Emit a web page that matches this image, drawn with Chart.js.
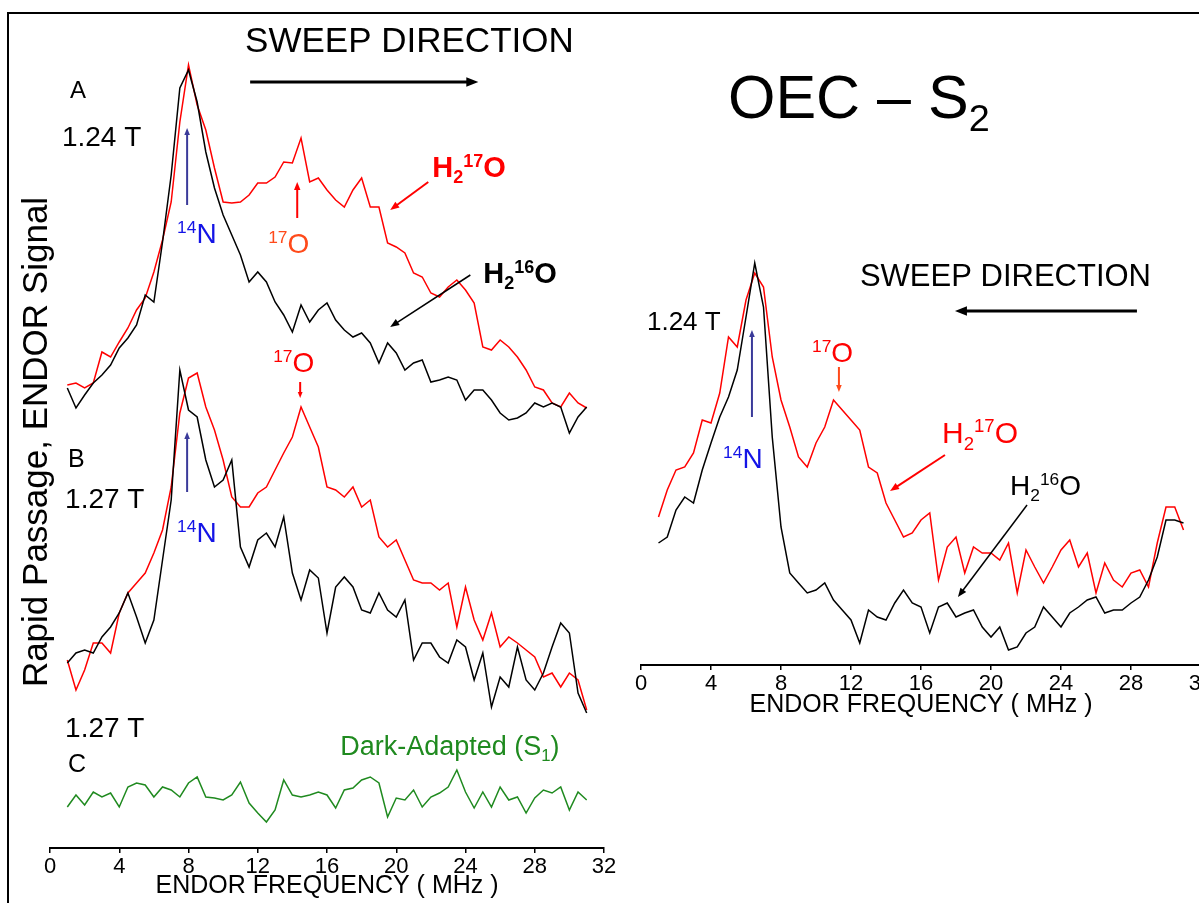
<!DOCTYPE html>
<html lang="en">
<head>
<meta charset="UTF-8">
<title>OEC - S2 ENDOR</title>
<style>
  html, body { margin: 0; padding: 0; background: #fff; overflow: hidden; }
  #frame { position: absolute; left: 7px; top: 12px; width: 1300px; height: 1000px; border-top: 2px solid #000; border-left: 2px solid #000; }
  #left { position: absolute; left: 0; top: 0; }
  #right { position: absolute; left: 620px; top: 0; }
</style>
</head>
<body>
<div id="frame"></div>
<canvas id="left" width="620" height="903"></canvas>
<canvas id="right" width="600" height="720"></canvas>
<script src="https://cdn.jsdelivr.net/npm/chart.js"></script>
<script>
// ENDOR frequency (MHz), same sampling for every trace
const freq = [1, 1.5, 2, 2.5, 3, 3.5, 4, 4.5, 5, 5.5, 6, 6.5, 7, 7.5, 8, 8.5, 9, 9.5, 10, 10.5,
  11, 11.5, 12, 12.5, 13, 13.5, 14, 14.5, 15, 15.5, 16, 16.5, 17, 17.5, 18, 18.5, 19, 19.5, 20, 20.5,
  21, 21.5, 22, 22.5, 23, 23.5, 24, 24.5, 25, 25.5, 26, 26.5, 27, 27.5, 28, 28.5, 29, 29.5, 30, 30.5, 31];
const xTicks = [0, 4, 8, 12, 16, 20, 24, 28, 32];

// left panel, trace A (1.24 T), offset stacked
const a17 = [46.3, 46.5, 46.0, 46.5, 49.6, 49.1, 50.6, 52.0, 53.8, 55.0,
  57.6, 60.8, 64.6, 72.6, 78.3, 74.3, 71.8, 68.0, 64.6, 64.5,
  64.6, 65.3, 66.5, 66.5, 67.1, 68.6, 68.5, 71.0, 66.6, 67.0,
  65.8, 64.8, 64.1, 65.8, 67.0, 64.1, 64.1, 60.5, 60.1, 59.5,
  57.5, 57.1, 55.5, 55.1, 56.1, 56.8, 55.8, 54.5, 50.1, 49.8,
  50.8, 50.1, 49.1, 47.8, 46.1, 45.8, 44.5, 44.1, 45.5, 44.5, 44.0];
const a16 = [46.0, 44.0, 45.3, 46.5, 47.3, 48.3, 50.0, 51.0, 52.3, 55.3,
  54.6, 60.6, 67.3, 76.0, 77.8, 74.6, 69.6, 66.0, 63.3, 61.3,
  59.3, 56.6, 57.6, 56.6, 54.6, 53.3, 51.6, 54.3, 52.6, 53.8,
  54.5, 52.8, 51.8, 51.1, 51.5, 50.5, 48.5, 50.5, 49.5, 47.8,
  48.5, 48.8, 46.6, 46.8, 47.1, 46.8, 44.8, 45.8, 45.8, 44.8,
  43.5, 42.8, 43.0, 43.5, 44.5, 44.1, 44.5, 44.1, 41.5, 43.1, 44.1];
// trace B (1.27 T)
const b17 = [18.8, 15.8, 17.8, 20.5, 20.5, 19.5, 23.5, 25.5, 26.5, 27.5,
  29.5, 31.8, 36.1, 43.5, 47.0, 47.5, 44.1, 41.8, 38.8, 35.1,
  34.1, 34.1, 35.5, 36.1, 37.8, 39.5, 41.1, 44.1, 42.1, 40.1,
  36.1, 35.8, 35.1, 36.1, 34.1, 34.8, 31.1, 30.1, 30.8, 28.8,
  26.8, 26.5, 26.5, 25.8, 26.5, 22.1, 26.1, 22.8, 20.8, 23.5,
  20.1, 21.1, 20.5, 19.8, 19.1, 17.1, 17.5, 16.1, 17.5, 16.8, 13.8];
const b16 = [18.5, 19.5, 19.8, 19.5, 21.1, 22.1, 23.5, 25.5, 23.1, 20.5,
  22.8, 28.8, 34.8, 47.8, 43.8, 43.1, 38.8, 36.1, 36.8, 38.8,
  30.1, 28.1, 30.8, 31.5, 30.1, 33.1, 27.5, 24.8, 27.8, 27.0,
  21.5, 26.1, 27.1, 26.1, 23.8, 23.5, 25.5, 23.8, 23.1, 24.8,
  18.8, 20.5, 20.5, 19.1, 18.5, 20.8, 20.1, 16.8, 19.5, 14.1,
  17.1, 16.1, 20.1, 16.8, 15.8, 17.5, 20.1, 22.5, 21.5, 15.5, 13.5];
// trace C, dark-adapted S1
const cDark = [4.1, 5.3, 4.3, 5.6, 5.1, 5.5, 4.1, 6.1, 6.5, 6.3,
  5.1, 6.1, 5.8, 5.1, 6.5, 7.1, 5.1, 5.0, 4.8, 5.3,
  6.6, 4.5, 3.5, 2.6, 3.8, 6.8, 5.3, 5.1, 5.3, 5.6,
  5.3, 4.0, 5.8, 6.0, 6.8, 7.1, 6.5, 3.1, 5.0, 4.8,
  5.8, 4.1, 5.1, 5.5, 6.1, 7.8, 5.6, 4.0, 5.6, 4.1,
  6.1, 4.8, 5.1, 3.5, 5.0, 5.8, 5.5, 6.1, 3.8, 5.6, 4.8];
// right panel (reverse sweep, 1.24 T)
const r17 = [14.8, 17.5, 19.5, 19.8, 21.2, 24.5, 24.2, 27.2, 32.8, 31.8,
  36.5, 39.2, 37.8, 30.8, 26.5, 23.8, 20.8, 19.8, 22.2, 23.8,
  26.5, 25.5, 24.5, 23.5, 19.8, 19.2, 16.2, 14.5, 12.8, 13.2,
  14.5, 15.2, 8.5, 11.8, 12.8, 9.2, 11.8, 11.2, 11.2, 10.5,
  12.2, 7.2, 11.5, 9.8, 8.2, 9.8, 11.5, 12.5, 9.8, 11.2,
  7.2, 10.2, 8.5, 7.8, 9.2, 9.5, 7.8, 12.2, 15.8, 15.8, 13.5];
const r16 = [12.2, 12.8, 15.5, 16.8, 16.2, 19.5, 22.2, 24.8, 26.8, 29.5,
  34.8, 40.2, 35.8, 22.8, 13.8, 9.2, 8.2, 7.2, 7.5, 8.2,
  6.5, 5.5, 4.5, 2.2, 5.5, 4.8, 4.5, 6.2, 7.5, 6.2,
  5.8, 3.2, 5.8, 6.2, 4.8, 5.2, 5.5, 3.8, 2.8, 3.8,
  1.5, 1.8, 3.2, 3.8, 5.8, 4.8, 3.8, 5.2, 5.8, 6.5,
  6.8, 5.2, 5.5, 5.5, 6.2, 6.8, 8.5, 10.8, 14.5, 14.5, 14.2];

const FONT = "'Liberation Sans', Arial, Helvetica, sans-serif";
const RED = '#ff0000', ORANGE = '#ff4a1a', BLUE = '#1414e6', NAVY = '#3a3a9a', GREEN = '#1f8a1f';

// text with sub/superscripts, drawn at a baseline point
function drawRich(ctx, x, y, parts, size, weight, color, align) {
  ctx.save();
  ctx.fillStyle = color;
  ctx.textBaseline = 'alphabetic';
  ctx.textAlign = 'left';
  let w = 0;
  const segs = parts.map(p => {
    const s = typeof p === 'string' ? { t: p } : p;
    const sz = (s.sub || s.sup) ? size * 0.62 : size;
    ctx.font = weight + ' ' + sz + 'px ' + FONT;
    const seg = { t: s.t, sz: sz, x: w, dy: s.sub ? size * 0.22 : (s.sup ? -size * 0.36 : 0) };
    w += ctx.measureText(s.t).width;
    return seg;
  });
  const x0 = align === 'center' ? x - w / 2 : x;
  segs.forEach(s => {
    ctx.font = weight + ' ' + s.sz + 'px ' + FONT;
    ctx.fillText(s.t, x0 + s.x, y + s.dy);
  });
  ctx.restore();
}

function drawArrow(ctx, x1, y1, x2, y2, color, width, head) {
  const a = Math.atan2(y2 - y1, x2 - x1);
  const c = Math.cos(a), s = Math.sin(a);
  ctx.save();
  ctx.strokeStyle = color;
  ctx.fillStyle = color;
  ctx.lineWidth = width;
  ctx.beginPath();
  ctx.moveTo(x1, y1);
  ctx.lineTo(x2 - c * head * 0.8, y2 - s * head * 0.8);
  ctx.stroke();
  ctx.beginPath();
  ctx.moveTo(x2, y2);
  ctx.lineTo(x2 - head * c + head * 0.4 * s, y2 - head * s - head * 0.4 * c);
  ctx.lineTo(x2 - head * c - head * 0.4 * s, y2 - head * s + head * 0.4 * c);
  ctx.closePath();
  ctx.fill();
  ctx.restore();
}

// labels and arrows, placed in data units (MHz, signal)
function notesPlugin(items) {
  return {
    id: 'notes',
    afterDraw(chart) {
      const ctx = chart.ctx, x = chart.scales.x, y = chart.scales.y;
      items.forEach(it => {
        if (it.arrow) {
          const p = it.arrow;
          drawArrow(ctx, x.getPixelForValue(p[0]), y.getPixelForValue(p[1]),
            x.getPixelForValue(p[2]), y.getPixelForValue(p[3]), it.color, it.width || 2, it.head || 8);
          return;
        }
        const px = x.getPixelForValue(it.at[0]), py = y.getPixelForValue(it.at[1]);
        if (it.rotate) {
          ctx.save();
          ctx.translate(px, py);
          ctx.rotate(it.rotate);
          drawRich(ctx, 0, 0, it.text, it.size, it.weight || 'normal', it.color || '#000', it.align);
          ctx.restore();
        } else {
          drawRich(ctx, px, py, it.text, it.size, it.weight || 'normal', it.color || '#000', it.align);
        }
      });
    }
  };
}

const leftNotes = [
  { text: ['Rapid Passage, ENDOR Signal'], at: [-0.17, 40.6], size: 35, align: 'center', rotate: -Math.PI / 2 },
  { text: ['SWEEP DIRECTION'], at: [11.27, 79.6], size: 35 },
  { arrow: [11.56, 76.6, 24.74, 76.6], color: '#000', width: 3, head: 12 },
  { text: ['A'], at: [1.16, 75.0], size: 24 },
  { text: ['1.24 T'], at: [0.69, 70.2], size: 28 },
  { arrow: [7.92, 64.3, 7.92, 72.0], color: NAVY, width: 2, head: 7 },
  { text: [{ t: '14', sup: 1 }, 'N'], at: [7.34, 60.5], size: 28, color: BLUE },
  { arrow: [14.28, 63.0, 14.28, 66.6], color: RED, width: 2, head: 8 },
  { text: [{ t: '17', sup: 1 }, 'O'], at: [12.6, 59.5], size: 28, color: ORANGE },
  { text: ['H', { t: '2', sub: 1 }, { t: '17', sup: 1 }, 'O'], at: [22.08, 67.1], size: 29, weight: 'bold', color: RED },
  { arrow: [21.85, 66.6, 19.65, 63.8], color: RED, width: 2, head: 9 },
  { text: ['H', { t: '2', sub: 1 }, { t: '16', sup: 1 }, 'O'], at: [25.03, 56.5], size: 29, weight: 'bold' },
  { arrow: [24.28, 57.3, 19.65, 52.1], color: '#000', width: 1.5, head: 9 },
  { text: [{ t: '17', sup: 1 }, 'O'], at: [12.89, 47.6], size: 28, color: RED },
  { arrow: [14.45, 46.6, 14.45, 45.0], color: RED, width: 2, head: 6 },
  { text: ['B'], at: [1.04, 38.1], size: 25 },
  { text: ['1.27 T'], at: [0.87, 34.0], size: 28 },
  { arrow: [7.92, 35.6, 7.92, 41.6], color: NAVY, width: 2, head: 7 },
  { text: [{ t: '14', sup: 1 }, 'N'], at: [7.34, 30.6], size: 28, color: BLUE },
  { text: ['1.27 T'], at: [0.87, 11.1], size: 28 },
  { text: ['C'], at: [1.04, 7.6], size: 25 },
  { text: ['Dark-Adapted (S', { t: '1', sub: 1 }, ')'], at: [16.76, 9.3], size: 27, color: GREEN }
];

const rightNotes = [
  { text: ['OEC \u2013 S', { t: '2', sub: 1 }], at: [4.97, 54.7], size: 61 },
  { text: ['SWEEP DIRECTION'], at: [12.51, 37.9], size: 31 },
  { arrow: [28.34, 35.4, 17.94, 35.4], color: '#000', width: 3, head: 12 },
  { text: ['1.24 T'], at: [0.34, 33.5], size: 26 },
  { arrow: [6.34, 24.8, 6.34, 33.5], color: NAVY, width: 2, head: 7 },
  { text: [{ t: '14', sup: 1 }, 'N'], at: [4.69, 19.7], size: 28, color: BLUE },
  { text: [{ t: '17', sup: 1 }, 'O'], at: [9.77, 30.3], size: 28, color: RED },
  { arrow: [11.31, 29.8, 11.31, 27.3], color: ORANGE, width: 2, head: 7 },
  { text: ['H', { t: '2', sub: 1 }, { t: '17', sup: 1 }, 'O'], at: [17.2, 22.2], size: 30, color: RED },
  { arrow: [17.37, 21.0, 14.23, 17.4], color: RED, width: 2, head: 9 },
  { text: ['H', { t: '2', sub: 1 }, { t: '16', sup: 1 }, 'O'], at: [21.09, 17.0], size: 28 },
  { arrow: [22.06, 16.0, 18.11, 6.8], color: '#000', width: 1.5, head: 9 }
];

function trace(values, color) {
  return {
    data: freq.map((f, i) => ({ x: f, y: values[i] })),
    borderColor: color, borderWidth: 1.5, pointRadius: 0, fill: false, tension: 0
  };
}

function freqAxis(titleGap) {
  return {
    type: 'linear', min: 0, max: 32,
    afterBuildTicks: s => { s.ticks = xTicks.map(v => ({ value: v })); },
    ticks: { color: '#000', font: { size: 22, family: FONT }, padding: 1, maxRotation: 0, autoSkip: false },
    grid: { drawOnChartArea: false, drawTicks: true, tickLength: 5, color: '#000', lineWidth: 1.5 },
    border: { display: true, color: '#000', width: 2 },
    title: { display: true, text: 'ENDOR FREQUENCY ( MHz )', color: '#000', font: { size: 25, family: FONT }, padding: { top: 0, bottom: titleGap } },
    afterFit: s => { s.height = 55; }
  };
}

function baseOptions(padding, yMax, titleGap) {
  return {
    responsive: false,
    animation: false,
    events: [],
    layout: { padding: padding },
    plugins: { legend: { display: false }, tooltip: { enabled: false } },
    scales: { x: freqAxis(titleGap), y: { display: false, min: 0, max: yMax } }
  };
}

new Chart(document.getElementById('left'), {
  type: 'line',
  data: { datasets: [trace(a16, '#000'), trace(a17, RED), trace(b16, '#000'), trace(b17, RED), trace(cDark, GREEN)] },
  options: baseOptions({ left: 50, right: 16, top: 48, bottom: 0 }, 80, 2),
  plugins: [notesPlugin(leftNotes)]
});

new Chart(document.getElementById('right'), {
  type: 'line',
  data: { datasets: [trace(r16, '#000'), trace(r17, RED)] },
  options: baseOptions({ left: 21, right: 19, top: 245, bottom: 0 }, 42, 0),
  plugins: [notesPlugin(rightNotes)]
});
</script>
</body>
</html>
